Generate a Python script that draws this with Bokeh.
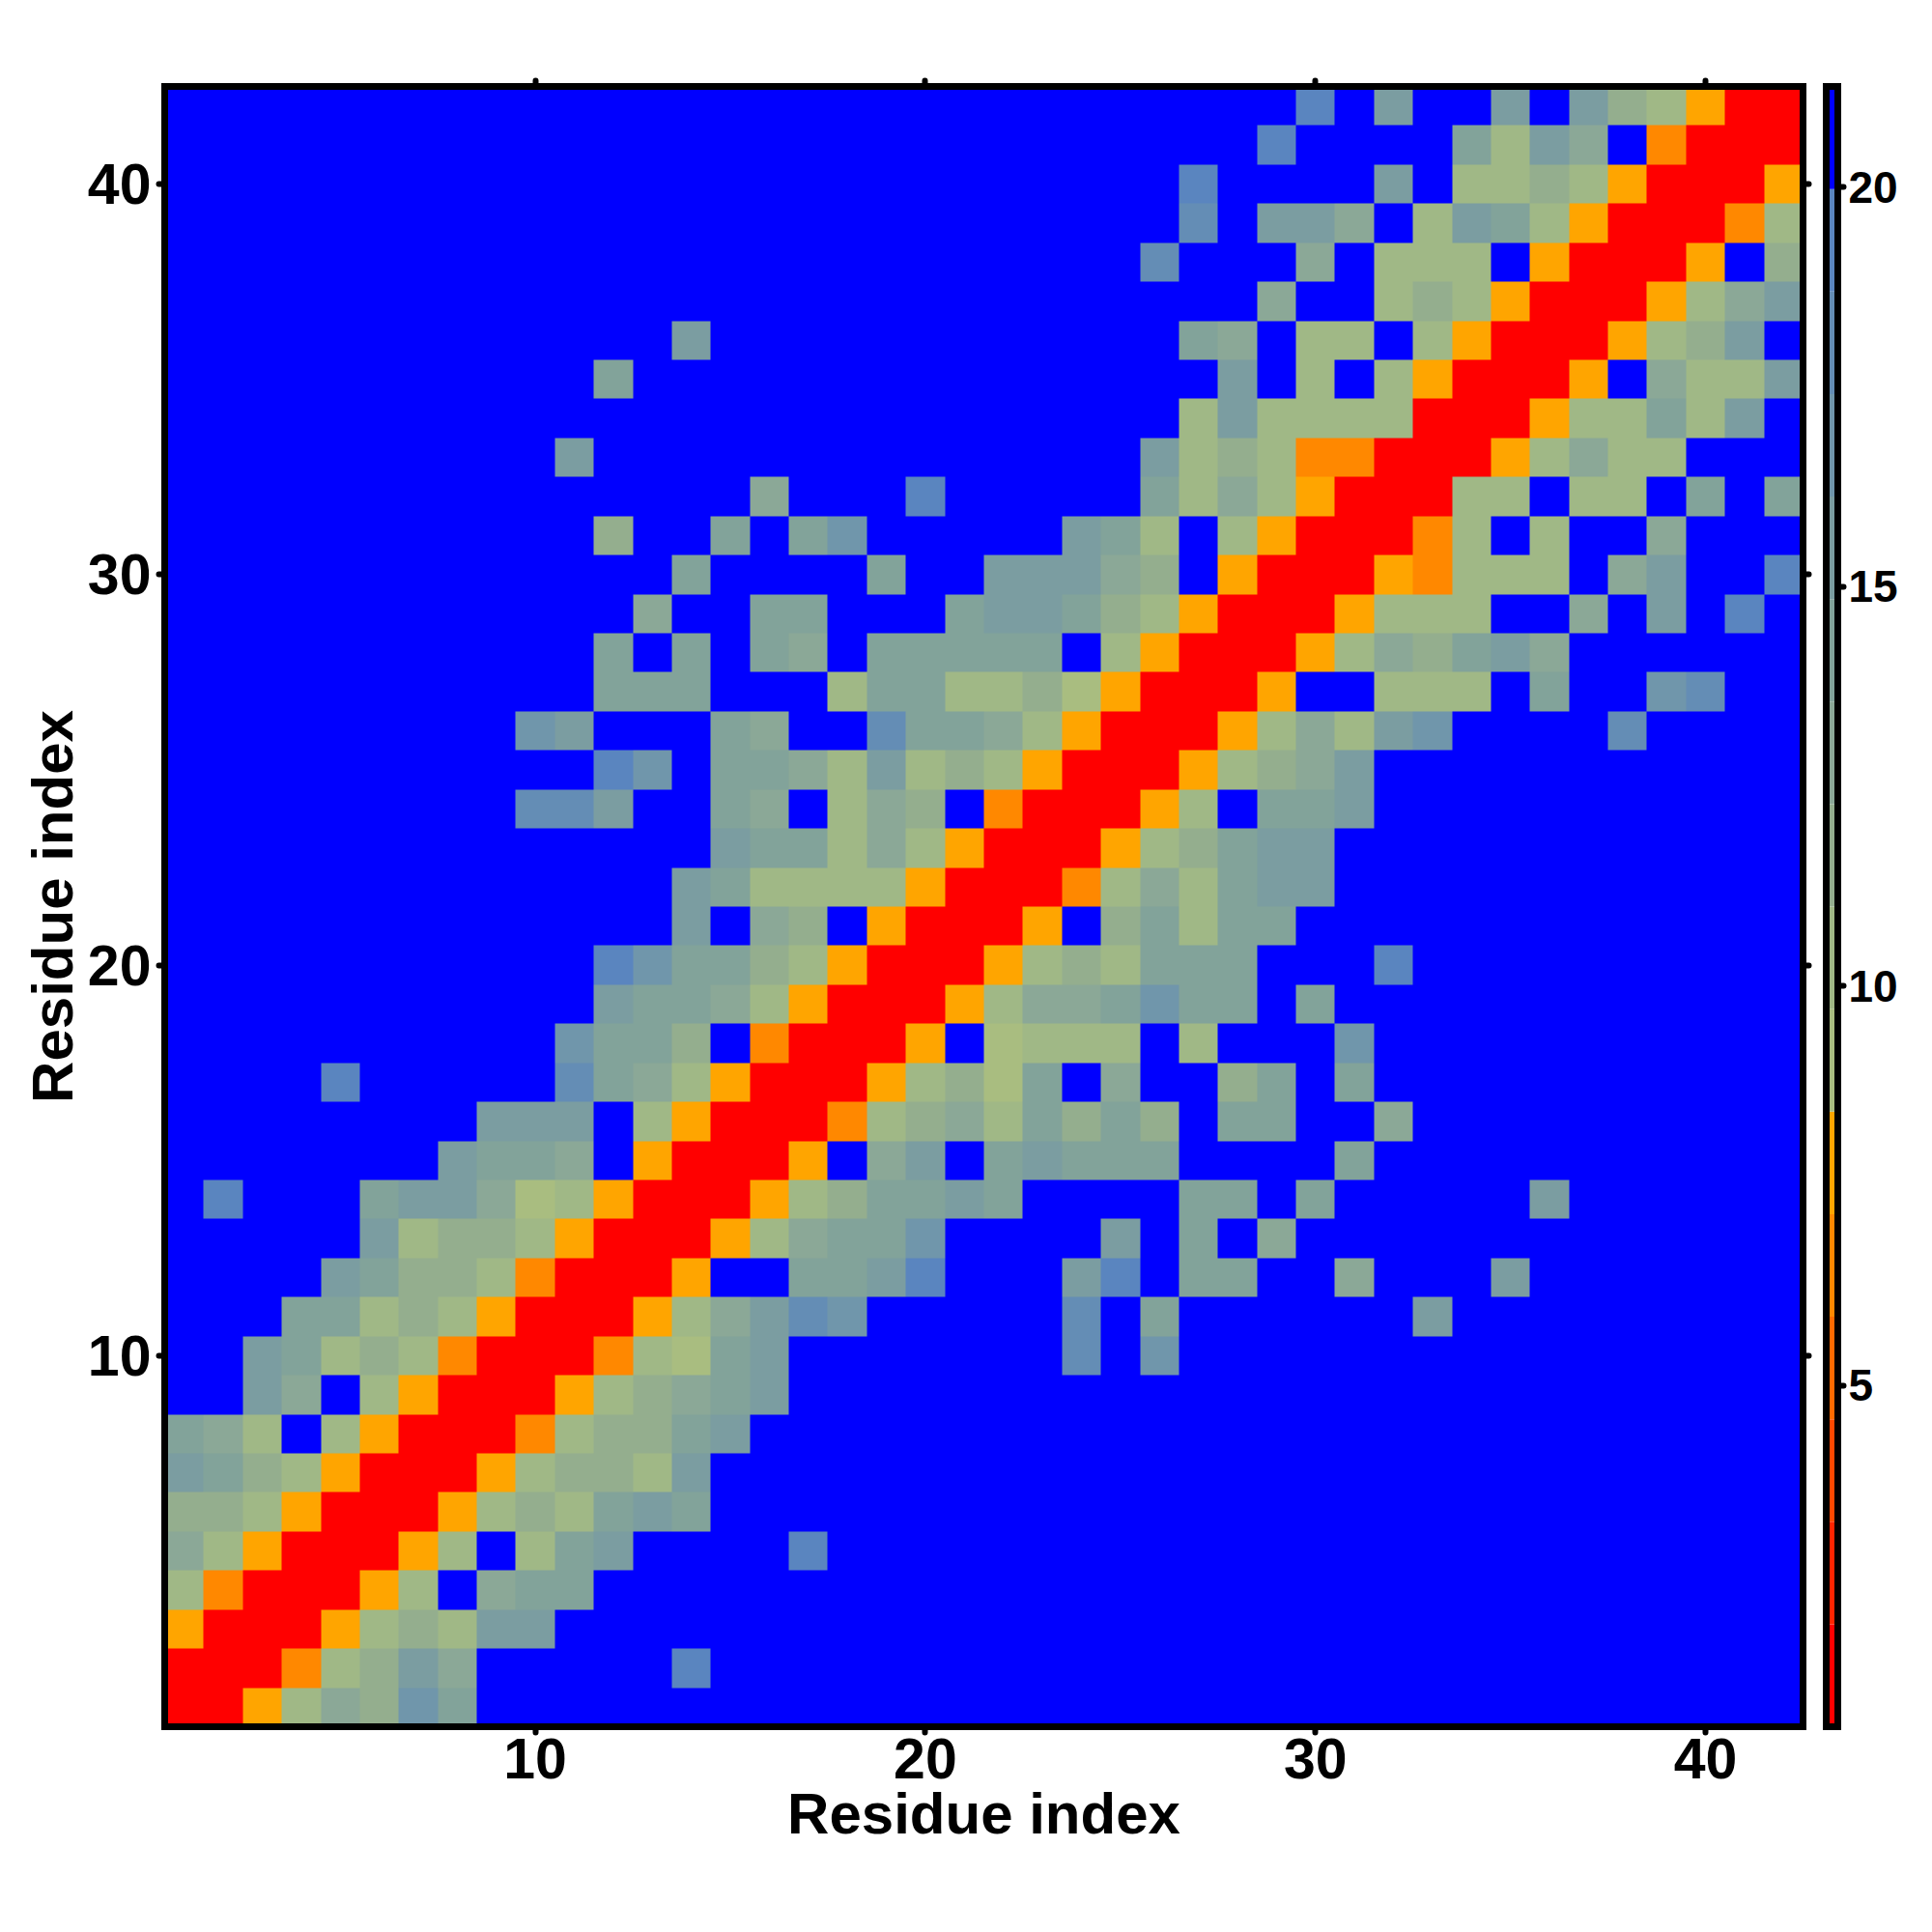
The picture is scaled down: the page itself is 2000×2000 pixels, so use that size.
from bokeh.plotting import figure
from bokeh.layouts import row
from bokeh.models import LinearColorMapper, LinearAxis, FixedTicker, Range1d
from bokeh.embed import file_html
from bokeh.resources import INLINE
import numpy as np

# residue distance values; row_NN is y = NN, entries are x = 1..42
row_42 = [21,21,21,21,21,21,21,21,21,21, 21,21,21,21,21,21,21,21,21,21, 21,21,21,21,21,21,21,21,21,19, 21,15,21,21,15,21,15,12,10,8, 1,1]
row_41 = [21,21,21,21,21,21,21,21,21,21, 21,21,21,21,21,21,21,21,21,21, 21,21,21,21,21,21,21,21,19,21, 21,21,21,14,10,15,13,21,6,1, 1,1]
row_40 = [21,21,21,21,21,21,21,21,21,21, 21,21,21,21,21,21,21,21,21,21, 21,21,21,21,21,21,19,21,21,21, 21,15,21,10,10,12,10,8,1,1, 1,8]
row_39 = [21,21,21,21,21,21,21,21,21,21, 21,21,21,21,21,21,21,21,21,21, 21,21,21,21,21,21,18,21,15,15, 13,21,10,15,14,10,8,1,1,1, 6,10]
row_38 = [21,21,21,21,21,21,21,21,21,21, 21,21,21,21,21,21,21,21,21,21, 21,21,21,21,21,18,21,21,21,13, 21,10,10,10,21,8,1,1,1,8, 21,12]
row_37 = [21,21,21,21,21,21,21,21,21,21, 21,21,21,21,21,21,21,21,21,21, 21,21,21,21,21,21,21,21,13,21, 21,10,12,10,8,1,1,1,8,10, 13,15]
row_36 = [21,21,21,21,21,21,21,21,21,21, 21,21,21,15,21,21,21,21,21,21, 21,21,21,21,21,21,14,13,21,10, 10,21,10,8,1,1,1,8,10,12, 15,21]
row_35 = [21,21,21,21,21,21,21,21,21,21, 21,14,21,21,21,21,21,21,21,21, 21,21,21,21,21,21,21,15,21,10, 21,10,8,1,1,1,8,21,13,10, 10,15]
row_34 = [21,21,21,21,21,21,21,21,21,21, 21,21,21,21,21,21,21,21,21,21, 21,21,21,21,21,21,10,15,10,10, 10,10,1,1,1,8,10,10,14,10, 15,21]
row_33 = [21,21,21,21,21,21,21,21,21,21, 15,21,21,21,21,21,21,21,21,21, 21,21,21,21,21,15,10,12,10,6, 6,1,1,1,8,10,13,10,10,21, 21,21]
row_32 = [21,21,21,21,21,21,21,21,21,21, 21,21,21,21,21,13,21,21,21,19, 21,21,21,21,21,14,10,13,10,8, 1,1,1,10,10,21,10,10,21,14, 21,14]
row_31 = [21,21,21,21,21,21,21,21,21,21, 21,12,21,21,14,21,14,17,21,21, 21,21,21,15,14,10,21,10,8,1, 1,1,6,10,21,10,21,21,13,21, 21,21]
row_30 = [21,21,21,21,21,21,21,21,21,21, 21,21,21,14,21,21,21,21,14,21, 21,15,15,15,13,12,21,8,1,1, 1,8,6,10,10,10,21,13,15,21, 21,19]
row_29 = [21,21,21,21,21,21,21,21,21,21, 21,21,13,21,21,14,14,21,21,21, 14,15,15,14,12,10,8,1,1,1, 8,10,10,10,21,21,13,21,15,21, 19,21]
row_28 = [21,21,21,21,21,21,21,21,21,21, 21,14,21,14,21,14,13,21,14,14, 14,14,14,21,10,8,1,1,1,8, 10,13,12,14,15,13,21,21,21,21, 21,21]
row_27 = [21,21,21,21,21,21,21,21,21,21, 21,14,14,14,21,21,21,10,14,14, 10,10,12,9,8,1,1,1,8,21, 21,10,10,10,21,14,21,21,17,18, 21,21]
row_26 = [21,21,21,21,21,21,21,21,21,17, 15,21,21,21,14,13,21,21,18,14, 14,13,10,8,1,1,1,8,10,13, 10,15,17,21,21,21,21,18,21,21, 21,21]
row_25 = [21,21,21,21,21,21,21,21,21,21, 21,19,17,21,14,14,13,10,15,10, 12,10,8,1,1,1,8,10,12,13, 15,21,21,21,21,21,21,21,21,21, 21,21]
row_24 = [21,21,21,21,21,21,21,21,21,18, 18,15,21,21,14,13,21,10,13,12, 21,6,1,1,1,8,10,21,14,14, 15,21,21,21,21,21,21,21,21,21, 21,21]
row_23 = [21,21,21,21,21,21,21,21,21,21, 21,21,21,21,15,14,14,10,13,10, 8,1,1,1,8,10,12,14,15,15, 21,21,21,21,21,21,21,21,21,21, 21,21]
row_22 = [21,21,21,21,21,21,21,21,21,21, 21,21,21,15,14,10,10,10,10,8, 1,1,1,6,10,13,10,14,15,15, 21,21,21,21,21,21,21,21,21,21, 21,21]
row_21 = [21,21,21,21,21,21,21,21,21,21, 21,21,21,15,21,13,12,21,8,1, 1,1,8,21,12,14,10,14,14,21, 21,21,21,21,21,21,21,21,21,21, 21,21]
row_20 = [21,21,21,21,21,21,21,21,21,21, 21,19,17,14,14,12,10,8,1,1, 1,8,10,12,10,14,14,14,21,21, 21,19,21,21,21,21,21,21,21,21, 21,21]
row_19 = [21,21,21,21,21,21,21,21,21,21, 21,15,14,14,13,10,8,1,1,1, 8,10,13,13,14,17,14,14,21,14, 21,21,21,21,21,21,21,21,21,21, 21,21]
row_18 = [21,21,21,21,21,21,21,21,21,21, 17,14,14,12,21,6,1,1,1,8, 21,9,10,10,10,21,10,21,21,21, 17,21,21,21,21,21,21,21,21,21, 21,21]
row_17 = [21,21,21,21,19,21,21,21,21,21, 18,14,13,10,8,1,1,1,8,10, 12,9,14,21,13,21,21,12,14,21, 14,21,21,21,21,21,21,21,21,21, 21,21]
row_16 = [21,21,21,21,21,21,21,21,15,15, 15,21,10,8,1,1,1,6,10,12, 13,10,14,12,14,12,21,14,14,21, 21,13,21,21,21,21,21,21,21,21, 21,21]
row_15 = [21,21,21,21,21,21,21,15,14,14, 13,21,8,1,1,1,8,21,13,15, 21,14,15,14,14,14,21,21,21,21, 14,21,21,21,21,21,21,21,21,21, 21,21]
row_14 = [21,19,21,21,21,14,15,15,13,9, 10,8,1,1,1,8,10,12,14,14, 15,14,21,21,21,21,14,14,21,14, 21,21,21,21,21,15,21,21,21,21, 21,21]
row_13 = [21,21,21,21,21,15,10,12,12,10, 8,1,1,1,8,10,13,14,14,17, 21,21,21,21,15,21,14,21,13,21, 21,21,21,21,21,21,21,21,21,21, 21,21]
row_12 = [21,21,21,21,15,14,12,12,10,6, 1,1,1,8,21,21,14,14,15,19, 21,21,21,15,19,21,14,14,21,21, 13,21,21,21,15,21,21,21,21,21, 21,21]
row_11 = [21,21,21,14,14,10,12,10,8,1, 1,1,8,10,13,15,18,17,21,21, 21,21,21,18,21,14,21,21,21,21, 21,21,15,21,21,21,21,21,21,21, 21,21]
row_10 = [21,21,15,14,10,12,10,6,1,1, 1,6,10,9,14,15,21,21,21,21, 21,21,21,18,21,17,21,21,21,21, 21,21,21,21,21,21,21,21,21,21, 21,21]
row_09 = [21,21,15,13,21,10,8,1,1,1, 8,10,12,13,14,15,21,21,21,21, 21,21,21,21,21,21,21,21,21,21, 21,21,21,21,21,21,21,21,21,21, 21,21]
row_08 = [14,13,10,21,10,8,1,1,1,6, 10,12,12,14,15,21,21,21,21,21, 21,21,21,21,21,21,21,21,21,21, 21,21,21,21,21,21,21,21,21,21, 21,21]
row_07 = [15,14,12,10,8,1,1,1,8,10, 12,12,10,15,21,21,21,21,21,21, 21,21,21,21,21,21,21,21,21,21, 21,21,21,21,21,21,21,21,21,21, 21,21]
row_06 = [12,12,10,8,1,1,1,8,10,12, 10,14,15,14,21,21,21,21,21,21, 21,21,21,21,21,21,21,21,21,21, 21,21,21,21,21,21,21,21,21,21, 21,21]
row_05 = [13,10,8,1,1,1,8,10,21,10, 14,15,21,21,21,21,19,21,21,21, 21,21,21,21,21,21,21,21,21,21, 21,21,21,21,21,21,21,21,21,21, 21,21]
row_04 = [10,6,1,1,1,8,10,21,13,14, 14,21,21,21,21,21,21,21,21,21, 21,21,21,21,21,21,21,21,21,21, 21,21,21,21,21,21,21,21,21,21, 21,21]
row_03 = [8,1,1,1,8,10,12,10,15,15, 21,21,21,21,21,21,21,21,21,21, 21,21,21,21,21,21,21,21,21,21, 21,21,21,21,21,21,21,21,21,21, 21,21]
row_02 = [1,1,1,6,10,12,15,13,21,21, 21,21,21,19,21,21,21,21,21,21, 21,21,21,21,21,21,21,21,21,21, 21,21,21,21,21,21,21,21,21,21, 21,21]
row_01 = [1,1,8,10,13,12,17,14,21,21, 21,21,21,21,21,21,21,21,21,21, 21,21,21,21,21,21,21,21,21,21, 21,21,21,21,21,21,21,21,21,21, 21,21]

matrix_rows = [row_01,row_02,row_03,row_04,row_05,row_06,row_07,row_08,row_09,row_10,
               row_11,row_12,row_13,row_14,row_15,row_16,row_17,row_18,row_19,row_20,
               row_21,row_22,row_23,row_24,row_25,row_26,row_27,row_28,row_29,row_30,
               row_31,row_32,row_33,row_34,row_35,row_36,row_37,row_38,row_39,row_40,
               row_41,row_42]

palette = ["#ff0000","#ff2400","#ff4800","#ff6a00","#ff8800","#ffa500",
           "#a9bd80","#a0b886","#94ae8e","#8ba897","#82a39a","#7b9da1",
           "#7096ab","#648db5","#5a85bf","#0000ff"]
scale_low = 0.73
scale_high = 21.26
axis_ticks = [10, 20, 30, 40]
bar_ticks = [5, 10, 15, 20]
axis_title = "Residue index"
FONT = "Liberation Sans"

assert all(len(r) == 42 for r in matrix_rows)
z = np.array(matrix_rows, dtype=float)
mapper = LinearColorMapper(palette=palette, low=scale_low, high=scale_high)

p = figure(width=1876, height=1988, frame_width=1696, frame_height=1698,
           x_range=Range1d(0.5, 42.5), y_range=Range1d(0.5, 42.5),
           output_backend="svg", toolbar_location=None,
           min_border_left=170, min_border_top=89, min_border_right=10, min_border_bottom=201,
           x_axis_location=None, y_axis_location=None)
p.grid.visible = False
p.outline_line_color = None
p.image(image=[z], x=0.5, y=0.5, dw=42, dh=42, color_mapper=mapper)

def style(ax, labelled, standoff=6):
    ax.ticker = FixedTicker(ticks=axis_ticks)
    ax.axis_line_color = "black"
    ax.axis_line_width = 7
    ax.axis_line_cap = "square"
    ax.major_tick_line_color = "black"
    ax.major_tick_line_width = 6
    ax.major_tick_line_cap = "round"
    ax.major_tick_in = 0
    ax.major_tick_out = 6
    ax.minor_tick_line_color = None
    ax.major_label_text_font = FONT
    ax.major_label_text_font_style = "bold"
    ax.major_label_text_color = "black"
    ax.major_label_text_font_size = "59px"
    ax.major_label_standoff = standoff
    if not labelled:
        ax.major_label_overrides = {t: "" for t in axis_ticks}
    else:
        ax.axis_label = axis_title
        ax.axis_label_text_font = FONT
        ax.axis_label_text_font_style = "bold"
        ax.axis_label_text_font_size = "60px"
        ax.axis_label_text_color = "black"
        ax.axis_label_standoff = 0

bottom = LinearAxis(); style(bottom, True)
left = LinearAxis(); style(left, True, standoff=8)
top = LinearAxis(); style(top, False)
right = LinearAxis(); style(right, False)
top.major_label_text_font_size = "1px"
right.major_label_text_font_size = "1px"
p.add_layout(bottom, "below")
p.add_layout(left, "left")
p.add_layout(top, "above")
p.add_layout(right, "right")

n = len(palette)
step = (scale_high - scale_low) / n
band_bottom = [scale_low + i * step for i in range(n)]
band_top = [scale_low + (i + 1) * step for i in range(n)]

c = figure(width=104, height=1988, frame_width=12, frame_height=1698,
           x_range=Range1d(0, 1), y_range=Range1d(scale_low, scale_high),
           output_backend="svg", toolbar_location=None,
           min_border_left=14, min_border_top=89, min_border_right=78, min_border_bottom=201,
           x_axis_location=None, y_axis_location=None)
c.grid.visible = False
c.outline_line_color = None
c.quad(left=0, right=1, bottom=band_bottom, top=band_top, fill_color=palette, line_color=None)

for side in ("left", "above", "below"):
    a = LinearAxis(ticker=FixedTicker(ticks=[]), axis_line_color="black", axis_line_width=7,
                   axis_line_cap="square", major_tick_line_color=None, minor_tick_line_color=None,
                   major_label_text_font_size="1px")
    c.add_layout(a, side)
r_ax = LinearAxis(ticker=FixedTicker(ticks=bar_ticks), axis_line_color="black", axis_line_width=7,
                  axis_line_cap="square", major_tick_line_color="black", major_tick_line_width=6,
                  major_tick_line_cap="round", major_tick_in=0, major_tick_out=6,
                  minor_tick_line_color=None, major_label_text_font=FONT,
                  major_label_text_font_style="bold", major_label_text_font_size="46px",
                  major_label_text_color="black", major_label_standoff=5)
c.add_layout(r_ax, "right")

layout = row(p, c, spacing=0)
open("out.html", "w").write(file_html(layout, INLINE))
